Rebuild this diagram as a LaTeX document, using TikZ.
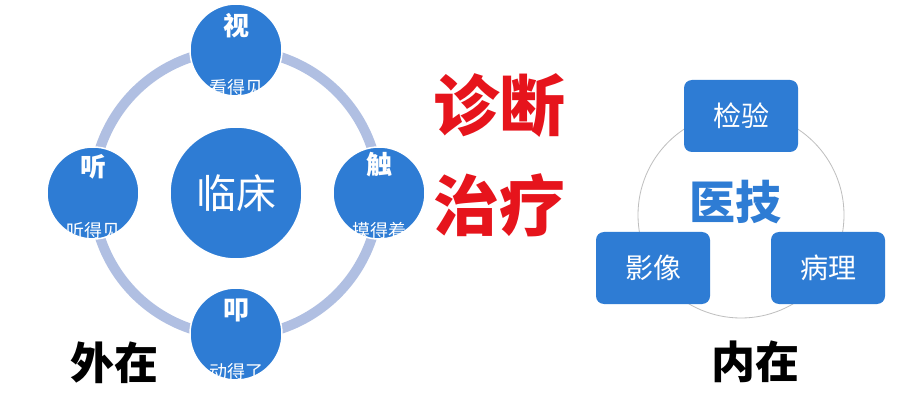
\documentclass[tikz,border=0pt]{standalone}
\usepackage{fontspec}
\setmainfont{Noto Sans CJK SC}
\newfontfamily\cjk{Noto Sans CJK SC}
\definecolor{bblue}{RGB}{46,124,212}
\definecolor{ringc}{RGB}{176,191,226}
\definecolor{redt}{RGB}{230,20,28}
\definecolor{grayc}{RGB}{190,190,190}
\begin{document}
\begin{tikzpicture}[x=1pt,y=-1pt,
  bub/.style={circle,fill=bblue,draw=white,line width=1.5pt,inner sep=0pt},
  head/.style={text=white,font=\cjk\bfseries\fontsize{26}{26}\selectfont,inner sep=0pt},
  sub/.style={text=white,font=\cjk\fontsize{18}{18}\selectfont,inner sep=0pt},
  boxn/.style={rectangle,rounded corners=8pt,fill=bblue,text=white,minimum width=114pt,minimum height=72pt,font=\cjk\fontsize{28}{28}\selectfont,inner sep=0pt},
  big/.style={font=\cjk\bfseries\fontsize{44}{44}\selectfont,inner sep=0pt}]
\useasboundingbox[fill=white] (0,0) rectangle (900,414);
% left diagram
\coordinate (ctr) at (236,193);
\draw[ringc,line width=10pt] (ctr) circle (143pt);
\node[bub,minimum size=132pt] (lc) at (236,193) {};
\node[text=white,font=\cjk\fontsize{40}{40}\selectfont,inner sep=0pt] (lct) at (lc) {临床};
% top
\node[bub,minimum size=92pt] (shi) at (236,50) {};
\node[head] (shit) at (236,26) {视};
\begin{scope}\clip (236,50) circle (45pt);
\node[sub] (shis) at (236,88) {看得见};
\end{scope}
% left
\node[bub,minimum size=92pt] (ting) at (93,193) {};
\node[head] (tingt) at (93,167) {听};
\begin{scope}\clip (93,193) circle (45pt);
\node[sub] (tings) at (93,231) {听得见};
\end{scope}
% right
\node[bub,minimum size=92pt] (chu) at (379,193) {};
\node[head] (chut) at (379,165) {触};
\begin{scope}\clip (379,193) circle (45pt);
\node[sub] (chus) at (379,231) {摸得着};
\end{scope}
% bottom
\node[bub,minimum size=92pt] (kou) at (236,334) {};
\node[head] (kout) at (236,310) {叩};
\begin{scope}\clip (236,334) circle (45pt);
\node[sub] (kous) at (236,372) {动得了};
\end{scope}
\node[big,text=black] (wai) at (114,363) {外在};
% middle red
\node[font=\cjk\bfseries\fontsize{66}{66}\selectfont,text=redt,inner sep=0pt] (zd) at (499,106) {诊断};
\node[font=\cjk\bfseries\fontsize{66}{66}\selectfont,text=redt,inner sep=0pt] (zl) at (499,205) {治疗};
% right diagram
\draw[grayc,line width=0.8pt] (741,215) circle (103pt);
\node[boxn] (jy) at (741,116) {检验};
\node[boxn] (yx) at (653,268) {影像};
\node[boxn] (bl) at (828,268) {病理};
\node[big,text=bblue,font=\cjk\bfseries\fontsize{46}{46}\selectfont] (yj) at (735,202) {医技};
\node[big,text=black] (nei) at (755,362) {内在};
\end{tikzpicture}
\end{document}
